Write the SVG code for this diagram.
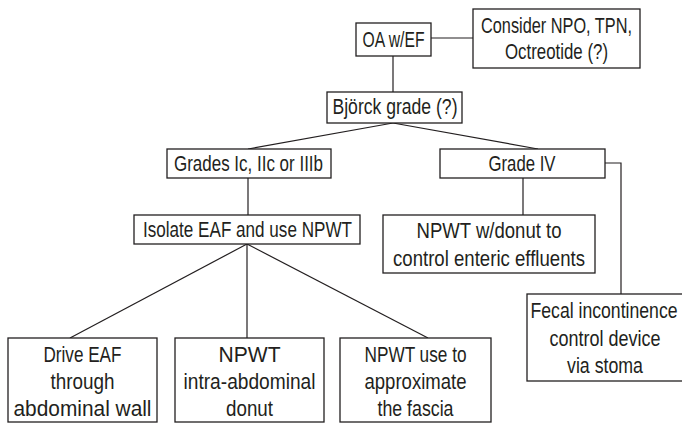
<svg xmlns="http://www.w3.org/2000/svg" width="682" height="427" viewBox="0 0 682 427">
<style>
rect{fill:#fff;stroke:#231f20;stroke-width:1.3}
text{font-family:"Liberation Sans","DejaVu Sans Condensed",sans-serif;font-size:21.5px;fill:#231f20;text-anchor:middle}
.c line,.c polyline{stroke:#231f20;stroke-width:1.2;fill:none}
</style>
<rect x="0" y="0" width="682" height="427" style="fill:#fff;stroke:none"/>
<g class="c" id="connectors">
<line x1="431" y1="38" x2="473" y2="38"/>
<line x1="393" y1="56" x2="393" y2="92"/>
<line x1="393" y1="123" x2="248" y2="149"/>
<line x1="393" y1="123" x2="538" y2="149"/>
<line x1="248" y1="178" x2="248" y2="215"/>
<line x1="523" y1="178" x2="523" y2="215"/>
<polyline points="605,163 621,163 621,294"/>
<line x1="247" y1="244" x2="70" y2="338"/>
<line x1="247" y1="244" x2="247" y2="338"/>
<line x1="247" y1="244" x2="428" y2="338"/>
</g>
<g id="oa"><rect x="356" y="23" width="75" height="33"/><text x="393.5" y="47" textLength="62" lengthAdjust="spacingAndGlyphs">OA w/EF</text></g>
<g id="consider"><rect x="473" y="9" width="167" height="59"/><text x="556.5" y="33" textLength="151" lengthAdjust="spacingAndGlyphs">Consider NPO, TPN,</text><text x="556.5" y="59" textLength="103" lengthAdjust="spacingAndGlyphs">Octreotide (?)</text></g>
<g id="bjorck"><rect x="327" y="92" width="135" height="31"/><text x="395" y="114" textLength="125" lengthAdjust="spacingAndGlyphs">Björck grade (?)</text></g>
<g id="grades"><rect x="167" y="149" width="164" height="29"/><text x="248.5" y="171" textLength="149" lengthAdjust="spacingAndGlyphs">Grades Ic, IIc or IIIb</text></g>
<g id="grade4"><rect x="440" y="149" width="165" height="29"/><text x="522" y="171" textLength="67" lengthAdjust="spacingAndGlyphs">Grade IV</text></g>
<g id="isolate"><rect x="134" y="215" width="226" height="29"/><text x="247.5" y="237" textLength="209" lengthAdjust="spacingAndGlyphs">Isolate EAF and use NPWT</text></g>
<g id="donut"><rect x="383" y="215" width="212" height="58"/><text x="489" y="238" textLength="145" lengthAdjust="spacingAndGlyphs">NPWT w/donut to</text><text x="489" y="266" textLength="192" lengthAdjust="spacingAndGlyphs">control enteric effluents</text></g>
<g id="fecal"><rect x="527" y="294" width="160" height="87"/><text x="604" y="318" textLength="147" lengthAdjust="spacingAndGlyphs">Fecal incontinence</text><text x="605" y="346" textLength="111" lengthAdjust="spacingAndGlyphs">control device</text><text x="605" y="373" textLength="76" lengthAdjust="spacingAndGlyphs">via stoma</text></g>
<g id="drive"><rect x="8" y="338" width="149" height="84"/><text x="82.5" y="362" textLength="78" lengthAdjust="spacingAndGlyphs">Drive EAF</text><text x="82.5" y="389" textLength="64" lengthAdjust="spacingAndGlyphs">through</text><text x="82.5" y="416" textLength="138" lengthAdjust="spacingAndGlyphs">abdominal wall</text></g>
<g id="intra"><rect x="175" y="338" width="149" height="84"/><text x="249.5" y="362" textLength="62" lengthAdjust="spacingAndGlyphs">NPWT</text><text x="249.5" y="389" textLength="132" lengthAdjust="spacingAndGlyphs">intra-abdominal</text><text x="249.5" y="416" textLength="47" lengthAdjust="spacingAndGlyphs">donut</text></g>
<g id="fascia"><rect x="340" y="338" width="151" height="84"/><text x="415.5" y="362" textLength="102" lengthAdjust="spacingAndGlyphs">NPWT use to</text><text x="415.5" y="389" textLength="102" lengthAdjust="spacingAndGlyphs">approximate</text><text x="415.5" y="416" textLength="76" lengthAdjust="spacingAndGlyphs">the fascia</text></g>
</svg>
